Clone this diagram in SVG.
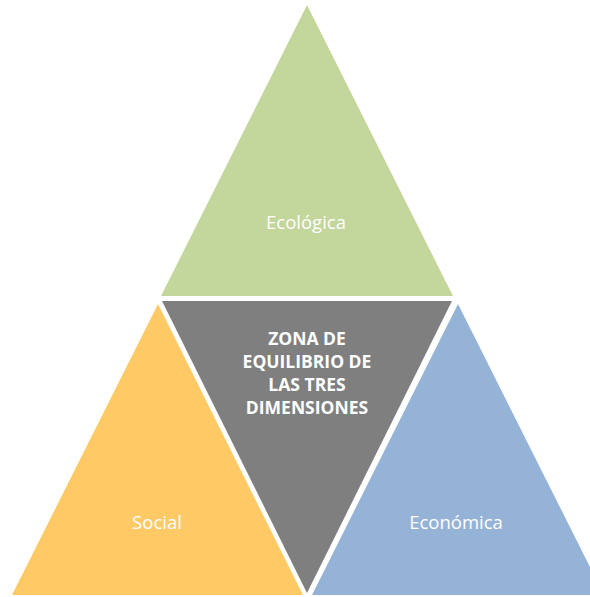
<svg xmlns="http://www.w3.org/2000/svg" width="590" height="597" viewBox="0 0 590 597">
  <style>
    .lbl { font-family: "Open Sans", "Liberation Sans", Arial, sans-serif; font-size: 18.5px; fill: #ffffff; text-anchor: middle; }
    .core { font-family: "Open Sans", "Liberation Sans", Arial, sans-serif; font-size: 17.5px; font-weight: bold; fill: #ffffff; text-anchor: middle; }
  </style>
  <rect width="590" height="597" fill="#ffffff"/>
  <g id="ecologica">
    <polygon points="307,5 161,296 453,296" fill="#C3D69B"/>
    <text class="lbl" x="306" y="229">Ecológica</text>
  </g>
  <g id="zona">
    <polygon points="162,301 452,301 307,593" fill="#7F7F7F"/>
    <text class="core" x="307" y="345">ZONA DE</text>
    <text class="core" x="307" y="368">EQUILIBRIO DE</text>
    <text class="core" x="307" y="391">LAS TRES</text>
    <text class="core" x="307" y="414">DIMENSIONES</text>
  </g>
  <g id="social">
    <polygon points="158,304 12,595 303,595" fill="#FFCA65"/>
    <text class="lbl" x="157" y="529">Social</text>
  </g>
  <g id="economica">
    <polygon points="458,304 312,595 604,595" fill="#95B3D7"/>
    <text class="lbl" x="456" y="529">Económica</text>
  </g>
  <g id="connectors"/>
</svg>
